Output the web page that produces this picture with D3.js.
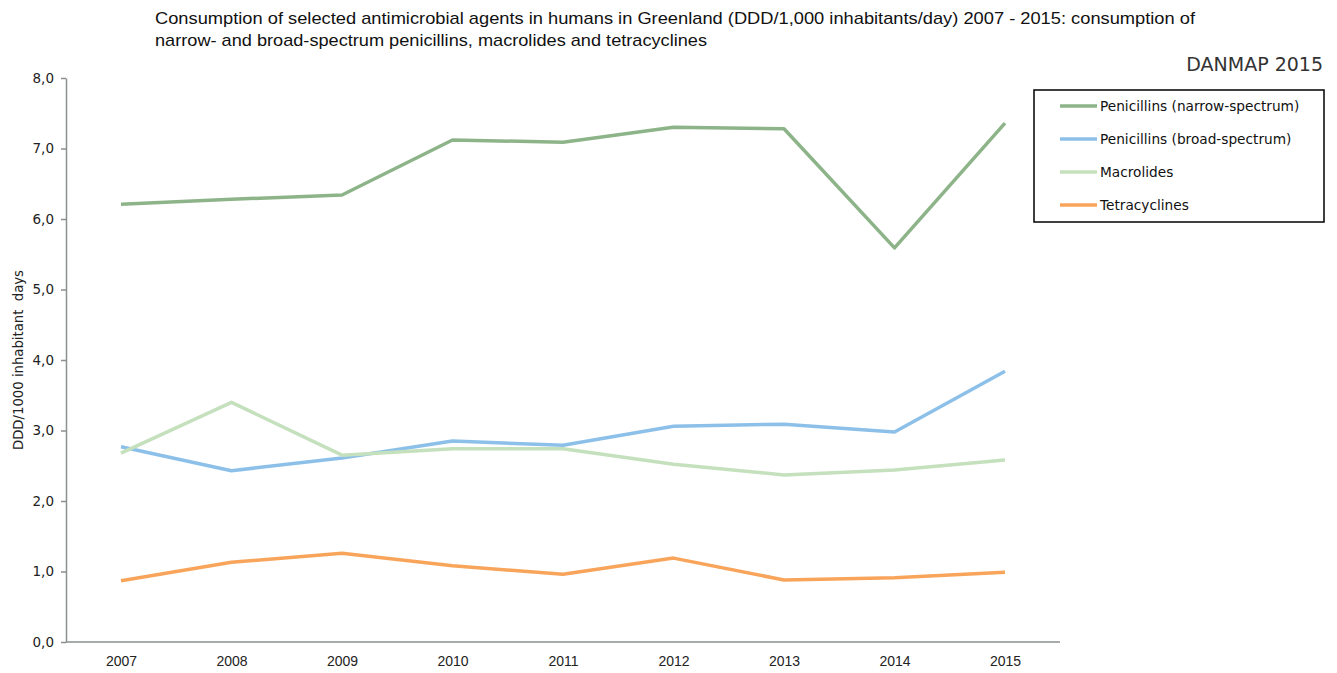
<!DOCTYPE html>
<html><head><meta charset="utf-8">
<script src="https://cdn.jsdelivr.net/npm/d3@7"></script>
<style>body{margin:0;background:#fff}svg{display:block}</style>
</head><body>
<svg id="c" width="1337" height="673"></svg>
<script>
const years = [2007,2008,2009,2010,2011,2012,2013,2014,2015];
const narrow = [6.21,6.28,6.34,7.12,7.09,7.30,7.28,5.59,7.36];
const broad = [2.77,2.43,2.61,2.85,2.79,3.06,3.09,2.98,3.84];
const macrolides = [2.68,3.40,2.65,2.74,2.74,2.52,2.37,2.44,2.58];
const tetracyclines = [0.87,1.13,1.26,1.08,0.96,1.19,0.88,0.91,0.99];
const seriesNames = ["Penicillins (narrow-spectrum)","Penicillins (broad-spectrum)","Macrolides","Tetracyclines"];
const seriesColors = ["#8db488","#8cc0e9","#c4e0bd","#f8a55b"];
const yTicks = [0,1,2,3,4,5,6,7,8];

const series = [narrow, broad, macrolides, tetracyclines];
const svg = d3.select("#c");
const x = d3.scalePoint().domain(years).range([121,1005]);
const y = d3.scaleLinear().domain([0,8]).range([642,78]);

// title
const title = svg.append("text").attr("font-family","Liberation Sans Narrow, Arial Narrow, sans-serif")
  .attr("font-size",17).attr("fill","#111");
title.append("tspan").attr("x",155).attr("y",24).attr("textLength",1040).attr("lengthAdjust","spacingAndGlyphs")
  .text("Consumption of selected antimicrobial agents in humans in Greenland (DDD/1,000 inhabitants/day) 2007 - 2015: consumption of");
title.append("tspan").attr("x",155).attr("y",46).attr("textLength",552).attr("lengthAdjust","spacingAndGlyphs")
  .text("narrow- and broad-spectrum penicillins, macrolides and tetracyclines");

svg.append("text").attr("x",1323).attr("y",71).attr("text-anchor","end")
  .attr("font-family","DejaVu Sans, sans-serif").attr("font-size",19).attr("fill","#333").text("DANMAP 2015");

// y axis
const ya = svg.append("g").attr("transform","translate(66,0)")
  .call(d3.axisLeft(y).tickValues(yTicks).tickSize(5).tickSizeOuter(0).tickPadding(7).tickFormat(d=>d3.format(".1f")(d).replace(".",",")));
ya.select(".domain").attr("stroke","#8a8f8f").attr("stroke-width",1.5);
ya.selectAll(".tick line").attr("stroke","#8a8f8f").attr("stroke-width",1.5);
ya.selectAll("text").attr("font-family","DejaVu Sans, sans-serif").attr("font-size",13.5).attr("fill","#222");

// x axis
const xa = svg.append("g").attr("transform","translate(0,642)")
  .call(d3.axisBottom(x).tickSize(0).tickPadding(14));
xa.select(".domain").attr("d","M66,0H1060").attr("stroke","#8a8f8f").attr("stroke-width",1.5);
xa.selectAll("text").attr("font-family","Liberation Sans Narrow, Arial Narrow, sans-serif").attr("font-size",14).attr("fill","#222");

// y title
svg.append("text").attr("transform","translate(23,360) rotate(-90)").attr("text-anchor","middle")
  .attr("font-family","DejaVu Sans, sans-serif").attr("font-size",13.5).attr("fill","#222")
  .attr("textLength",180).attr("lengthAdjust","spacingAndGlyphs")
  .style("white-space","pre").text("DDD/1000 inhabitant  days");

// lines
const line = d3.line().x((d,i)=>x(years[i])).y(d=>y(d));
series.forEach((s,k)=>{
  svg.append("path").datum(s).attr("d",line).attr("fill","none")
    .attr("stroke",seriesColors[k]).attr("stroke-width",3.5).attr("stroke-linejoin","round");
});

// legend
const lg = svg.append("g");
lg.append("rect").attr("x",1034).attr("y",90).attr("width",290).attr("height",132)
  .attr("fill","#fff").attr("stroke","#000").attr("stroke-width",1.5);
seriesNames.forEach((n,k)=>{
  const yy = 106 + k*33;
  lg.append("line").attr("x1",1060).attr("x2",1097).attr("y1",yy).attr("y2",yy)
    .attr("stroke",seriesColors[k]).attr("stroke-width",3.5);
  lg.append("text").attr("x",1100).attr("y",yy+5).attr("font-family","DejaVu Sans, sans-serif")
    .attr("font-size",13.7).attr("fill","#111").text(n);
});
</script>
</body></html>
